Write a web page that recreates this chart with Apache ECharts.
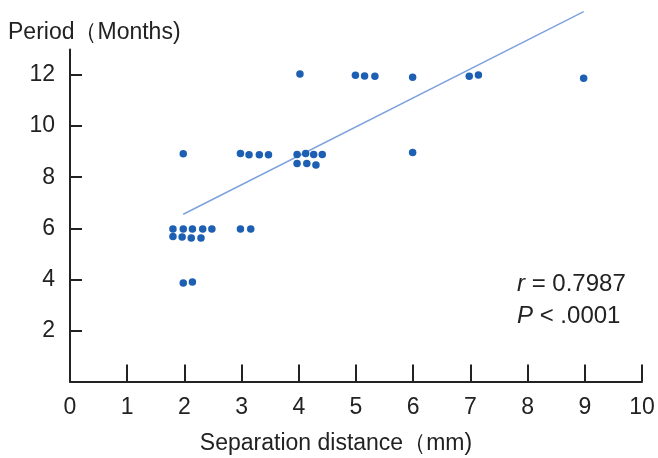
<!DOCTYPE html>
<html>
<head>
<meta charset="utf-8">
<script src="https://cdn.jsdelivr.net/npm/echarts@6/dist/echarts.min.js"></script>
<style>
  html, body { margin: 0; padding: 0; background: #fff; }
  #main { width: 658px; height: 458px; }
</style>
</head>
<body>
<div id="main"></div>
<script>
// x = separation distance (mm), y = period (months)
var distX = [1.98, 2.98, 3.13, 3.31, 3.47,
  1.80, 1.98, 2.14, 2.32, 2.48,
  1.80, 1.96, 2.12, 2.29,
  2.98, 3.16,
  1.98, 2.14,
  4.02, 4.99, 5.15, 5.33,
  3.97, 4.12, 4.26, 4.41,
  3.97, 4.14, 4.30,
  5.99, 6.98, 7.14, 8.98,
  5.99];
var periodY = [8.92, 8.93, 8.88, 8.88, 8.88,
  5.97, 5.97, 5.97, 5.97, 5.97,
  5.68, 5.66, 5.62, 5.62,
  5.97, 5.97,
  3.86, 3.9,
  12.04, 11.99, 11.96, 11.95,
  8.89, 8.93, 8.89, 8.89,
  8.54, 8.54, 8.48,
  11.91, 11.95, 12.0, 11.87,
  8.97];
// fitted line end points
var fitX = [1.98, 8.98];
var fitY = [6.55, 14.48];
var xTicks = [0, 1, 2, 3, 4, 5, 6, 7, 8, 9, 10];
var yTicks = [2, 4, 6, 8, 10, 12];

var chart = echarts.init(document.getElementById('main'));
var font = 'Liberation Sans, Arial, sans-serif';

chart.setOption({
  animation: false,
  grid: { left: 70, right: 16, top: 49.5, bottom: 76.5 },
  xAxis: {
    type: 'value', min: 0, max: 10,
    splitLine: { show: false },
    axisLine: { lineStyle: { color: '#222', width: 2 } },
    axisTick: { inside: true, length: 17, lineStyle: { color: '#222', width: 2 }, customValues: xTicks.slice(1) },
    axisLabel: { customValues: xTicks, color: '#222', fontSize: 23, fontFamily: font, margin: 15 }
  },
  yAxis: {
    type: 'value', min: 0, max: 13,
    splitLine: { show: false },
    axisLine: { lineStyle: { color: '#222', width: 2 } },
    axisTick: { inside: true, length: 12, lineStyle: { color: '#222', width: 2 }, customValues: yTicks },
    axisLabel: { customValues: yTicks, color: '#222', fontSize: 23, fontFamily: font, margin: 15 }
  },
  graphic: [
    { type: 'text', left: 8, top: 21, style: { text: 'Period（Months)', fill: '#222', font: '23px ' + font } },
    { type: 'text', x: 336, y: 432, style: { text: 'Separation distance（mm)', align: 'center', fill: '#222', font: '23px ' + font } },
    { type: 'text', left: 517, top: 272, style: {
      text: '{i|r} = 0.7987', fill: '#222', font: '24px ' + font,
      rich: { i: { fontStyle: 'italic', fontSize: 24, fontFamily: font, fill: '#222' } } } },
    { type: 'text', left: 517, top: 304, style: {
      text: '{i|P} < .0001', fill: '#222', font: '24px ' + font,
      rich: { i: { fontStyle: 'italic', fontSize: 24, fontFamily: font, fill: '#222' } } } }
  ],
  series: [
    {
      type: 'line',
      data: fitX.map(function (x, i) { return [x, fitY[i]]; }),
      clip: false,
      showSymbol: false,
      lineStyle: { color: '#7fa2dc', width: 1.5 },
      z: 1
    },
    {
      type: 'scatter',
      data: distX.map(function (x, i) { return [x, periodY[i]]; }),
      symbolSize: 7.5,
      itemStyle: { color: '#1d5fb3', opacity: 1 },
      z: 2
    }
  ]
});
</script>
</body>
</html>
